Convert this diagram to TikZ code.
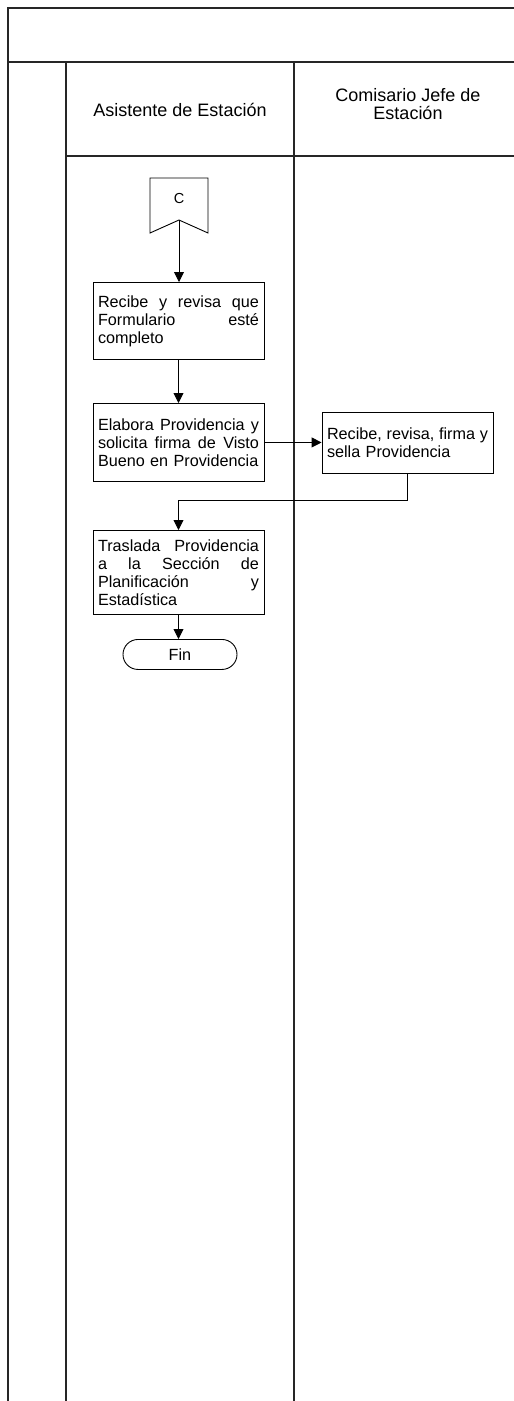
\documentclass[tikz,border=0pt]{standalone}
\usepackage{fontspec}
\setmainfont{Liberation Sans}
\usetikzlibrary{arrows.meta}
\newcommand{\jl}[1]{\leavevmode\hbox to 161pt{#1}}
\begin{document}
\begin{tikzpicture}[x=1pt,y=-1pt,
  lane/.style={line width=1.2pt, draw=black!85},
  box/.style={draw, line width=0.9pt, minimum width=171pt, text width=161pt, inner xsep=5pt, inner ysep=0pt, align=left, font=\fontsize{16.2}{18}\selectfont, anchor=north},
  arr/.style={-{Triangle[length=10pt,width=10pt]}, line width=0.9pt},
  hdr/.style={font=\fontsize{18}{18.5}\selectfont, align=center}]
\useasboundingbox (0,0) rectangle (514,1401);
% frame and lanes
\draw[lane] (514,8) -- (8,8) -- (8,1401);
\draw[lane] (8,62) -- (514,62);
\draw[lane] (66,62) -- (66,1401);
\draw[lane] (294,62) -- (294,1401);
\draw[lane] (66,156) -- (514,156);
% headers
\node[hdr] (h1) at (180,110) {Asistente de Estación};
\node[hdr] (h2) at (408,104) {Comisario Jefe de\\Estación};
% off-page connector
\draw[line width=0.9pt] (150,178) -- (208,178) -- (208,233) -- (179,220) -- (150,233) -- cycle;
\node[font=\fontsize{14.5}{16}\selectfont] (cC) at (179,199) {C};
\coordinate (Ctip) at (179,220);
% boxes
\node[box, minimum height=77pt] (b1) at (178.5,282) {\jl{Recibe\hfill y\hfill revisa\hfill que}\\\jl{Formulario\hfill esté}\\completo};
\node[box, minimum height=78pt] (b2) at (178.5,403) {\jl{Elabora\hfill Providencia\hfill y}\\\jl{solicita\hfill firma\hfill de\hfill Visto}\\Bueno en Providencia};
\node[box, minimum height=61pt] (b3) at (407.5,412) {\jl{Recibe,\hfill revisa,\hfill firma\hfill y}\\sella Providencia};
\node[box, minimum height=84pt] (b4) at (178.5,530) {\jl{Traslada\hfill Providencia}\\\jl{a\hfill la\hfill Sección\hfill de}\\\jl{Planificación\hfill y}\\Estadística};
\node[draw, line width=0.9pt, rounded corners=15pt, minimum width=114pt, minimum height=30pt, inner sep=0pt, font=\fontsize{16.2}{18}\selectfont, anchor=north] (fin) at (180,639) {Fin};
% connectors
\draw[arr] (Ctip) -- (Ctip |- b1.north);
\draw[arr] (b1.south) -- (b2.north);
\draw[arr] (b2.east) -- (b2.east -| b3.west);
\draw[arr] (b3.south) -- ++(0,27) -| (b4.north);
\draw[arr] (b4.south) -- (b4.south |- fin.north);
\end{tikzpicture}
\end{document}
